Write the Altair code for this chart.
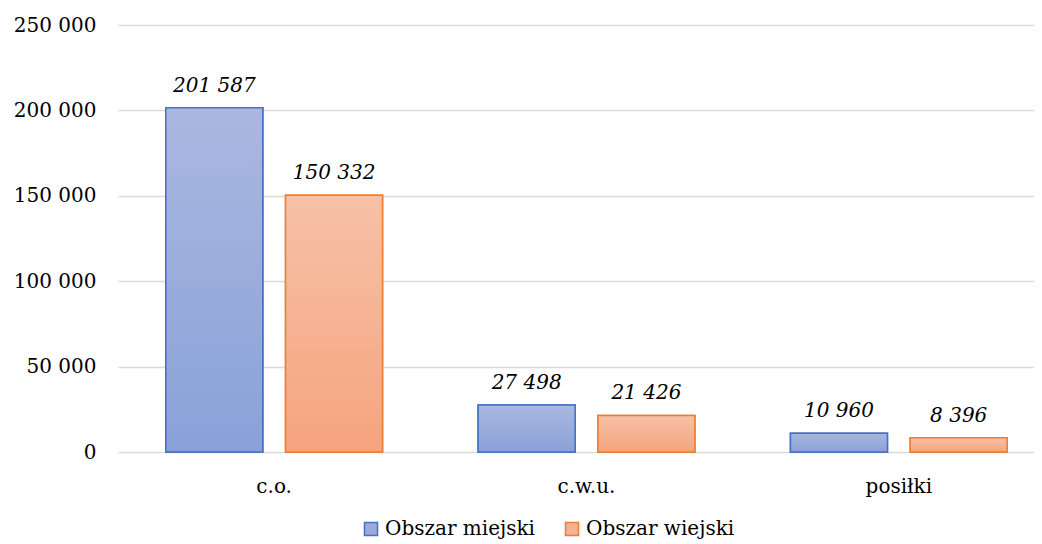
import altair as alt
import pandas as pd

categories = ["c.o.", "c.w.u.", "posiłki"]
series = ["Obszar miejski", "Obszar wiejski"]
miejski = [201587, 27498, 10960]
wiejski = [150332, 21426, 8396]
y_ticks = [0, 50000, 100000, 150000, 200000, 250000]

fill_mid = ["#98abdb", "#f5b293"]
border = ["#4472c4", "#ed7d31"]
grad_top = ["#a9b8e0", "#f7c1a8"]
grad_bot = ["#8aa1d8", "#f5a47d"]

rows = []
for c, m, w in zip(categories, miejski, wiejski):
    rows.append({"cat": c, "series": series[0], "value": m})
    rows.append({"cat": c, "series": series[1], "value": w})
df = pd.DataFrame(rows)

FONT = "DejaVu Serif"

x = alt.X(
    "cat:N", sort=categories, title=None,
    scale=alt.Scale(range=[0, 937], paddingInner=0.306, paddingOuter=0.153),
    axis=alt.Axis(labelAngle=0, ticks=False, domain=False, labelFontSize=20,
                  labelFont=FONT, labelColor="#000000", labelPadding=24),
)
y = alt.Y(
    "value:Q", title=None,
    scale=alt.Scale(domain=[0, 250000], nice=False),
    axis=alt.Axis(values=y_ticks, ticks=False, domain=False, grid=True,
                  gridColor="#d9d9d9", gridWidth=1.3, labelFontSize=20,
                  labelFont=FONT, labelColor="#000000", labelPadding=22,
                  labelExpr="replace(format(datum.value, ','), ',', ' ')"),
)
xo = alt.XOffset("series:N", sort=series, scale=alt.Scale(paddingInner=0.19))

base = alt.Chart(df).encode(x=x, xOffset=xo, y=y)

leg = alt.Legend(orient="none", legendX=243, legendY=494, direction="horizontal",
                 title=None, symbolType="square", symbolSize=170,
                 symbolStrokeWidth=1.5, labelFontSize=20, labelFont=FONT,
                 labelColor="#000000", columnPadding=26, labelOffset=4)

legend_bars = base.mark_bar(strokeWidth=1.5).encode(
    fill=alt.Fill("series:N", scale=alt.Scale(domain=series, range=fill_mid), legend=leg),
    stroke=alt.Stroke("series:N", scale=alt.Scale(domain=series, range=border), legend=leg),
)

def grad(i):
    return alt.LinearGradient(
        gradient="linear", x1=0, x2=0, y1=0, y2=1,
        stops=[alt.GradientStop(offset=0, color=grad_top[i]),
               alt.GradientStop(offset=1, color=grad_bot[i])],
    )

layers = [legend_bars]
for i, s in enumerate(series):
    layers.append(
        base.transform_filter(alt.datum.series == s).mark_bar(
            fill=grad(i), stroke=border[i], strokeWidth=1.5)
    )

text = base.transform_calculate(
    label="replace(format(datum.value, ','), ',', ' ')"
).mark_text(font=FONT, fontSize=20, fontStyle="italic", dy=-16,
            baseline="alphabetic", color="#000000").encode(text="label:N")
layers.append(text)

chart = alt.layer(*layers).properties(
    width=916, height=427,
    autosize=alt.AutoSizeParams(type="none"),
    padding={"left": 110, "top": 17, "right": 0, "bottom": 92},
).configure_view(stroke=None)

chart.save("out.html", embed_options={"renderer": "svg", "actions": False})
